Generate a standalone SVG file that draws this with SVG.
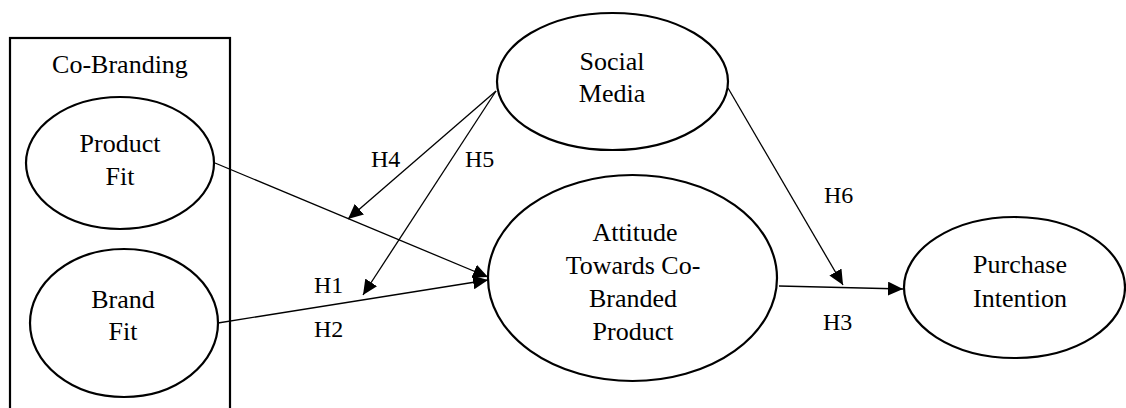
<svg xmlns="http://www.w3.org/2000/svg" width="1126" height="408" viewBox="0 0 1126 408" font-family="'Liberation Serif', 'Times New Roman', 'DejaVu Serif', serif">
<defs>
<style>
text{font-family:'Liberation Serif','Times New Roman','DejaVu Serif',serif;fill:#000}
.n{font-size:26px;text-anchor:middle}
.l{font-size:24px}
ellipse,.box{fill:none;stroke:#000;stroke-width:2.2}
.c line{stroke:#000;stroke-width:1.3}
</style>
<marker id="ah" markerUnits="userSpaceOnUse" markerWidth="15" markerHeight="14" refX="15" refY="7" orient="auto">
<path d="M0,0 L15,7 L0,14 z" fill="#000"/>
</marker>
</defs>
<rect width="1126" height="408" fill="#fff"/>
<g id="cobranding">
<rect class="box" x="10" y="38" width="220" height="380"/>
<text class="n" x="120" y="73">Co-Branding</text>
</g>
<g id="product-fit">
<ellipse cx="120" cy="163" rx="94" ry="66"/>
<text class="n" x="120" y="152">Product</text>
<text class="n" x="120" y="185">Fit</text>
</g>
<g id="brand-fit">
<ellipse cx="124" cy="323" rx="94" ry="74"/>
<text class="n" x="123" y="308">Brand</text>
<text class="n" x="123" y="340">Fit</text>
</g>
<g id="social-media">
<ellipse cx="612.5" cy="81.5" rx="115.5" ry="68.5"/>
<text class="n" x="612" y="70">Social</text>
<text class="n" x="612" y="102">Media</text>
</g>
<g id="attitude">
<ellipse cx="632.5" cy="278" rx="144.5" ry="103"/>
<text class="n" x="635" y="241">Attitude</text>
<text class="n" x="633" y="274">Towards Co-</text>
<text class="n" x="633" y="307">Branded</text>
<text class="n" x="633" y="340">Product</text>
</g>
<g id="purchase-intention">
<ellipse cx="1014.5" cy="287.5" rx="110.5" ry="70.5"/>
<text class="n" x="1020" y="273">Purchase</text>
<text class="n" x="1020" y="307">Intention</text>
</g>
<g id="connectors" class="c">
<line x1="215" y1="163" x2="488" y2="277" marker-end="url(#ah)"/>
<line x1="218" y1="323" x2="488" y2="280" marker-end="url(#ah)"/>
<line x1="496" y1="91" x2="348" y2="219" marker-end="url(#ah)"/>
<line x1="496" y1="91" x2="363" y2="295" marker-end="url(#ah)"/>
<line x1="728" y1="88" x2="843" y2="285" marker-end="url(#ah)"/>
<line x1="779" y1="286" x2="903" y2="289" marker-end="url(#ah)"/>
</g>
<g id="labels">
<text class="l" x="371" y="167">H4</text>
<text class="l" x="465" y="167">H5</text>
<text class="l" x="314" y="293">H1</text>
<text class="l" x="314" y="337">H2</text>
<text class="l" x="824" y="203">H6</text>
<text class="l" x="823" y="330">H3</text>
</g>
</svg>
